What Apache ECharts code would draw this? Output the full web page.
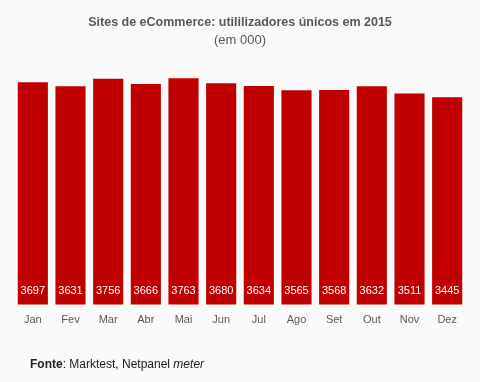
<!DOCTYPE html>
<html><head><meta charset="utf-8">
<script src="https://cdn.jsdelivr.net/npm/echarts@6/dist/echarts.min.js"></script>
<style>html,body{margin:0;padding:0;background:#fafafa}#c{width:480px;height:382px}</style>
</head><body><div id="c"></div>
<script>
const categories = ['Jan','Fev','Mar','Abr','Mai','Jun','Jul','Ago','Set','Out','Nov','Dez'];
const users = [3697,3631,3756,3666,3763,3680,3634,3565,3568,3632,3511,3445];
const FONT = "'Liberation Sans', Arial, sans-serif";
const chart = echarts.init(document.getElementById('c'));
chart.setOption({
  backgroundColor: '#fafafa',
  animation: false,
  title: [{
    text: 'Sites de eCommerce: utililizadores únicos em 2015',
    subtext: '(em 000)',
    left: 'center', top: 11, itemGap: 5,
    textStyle: {fontFamily: FONT, fontSize: 12.5, fontWeight: 'bold', color: '#595959'},
    subtextStyle: {fontFamily: FONT, fontSize: 13, color: '#595959'}
  }, {
    text: '{b|Fonte}: Marktest, Netpanel {i|meter}',
    left: 30, top: 359, padding: 0,
    textStyle: {fontFamily: FONT, fontSize: 12, fontWeight: 'normal', color: '#222',
      rich: {b: {fontFamily: FONT, fontSize: 12, fontWeight: 'bold', color: '#222'},
             i: {fontFamily: FONT, fontSize: 12, fontStyle: 'italic', color: '#222'}}}
  }],
  grid: {left: 14, right: 14, top: 64, bottom: 77.5},
  xAxis: {
    type: 'category', data: categories,
    axisLine: {show: false}, axisTick: {show: false},
    axisLabel: {fontFamily: FONT, fontSize: 11, color: '#595959', margin: 10}
  },
  yAxis: {type: 'value', min: 0, max: 4000, show: false, splitLine: {show: false}},
  series: [{
    type: 'bar', data: users, barCategoryGap: '20%',
    itemStyle: {color: '#c00000'},
    label: {show: true, position: 'insideBottom', distance: 8, color: '#fff',
      fontFamily: FONT, fontSize: 11}
  }]
});
</script></body></html>
